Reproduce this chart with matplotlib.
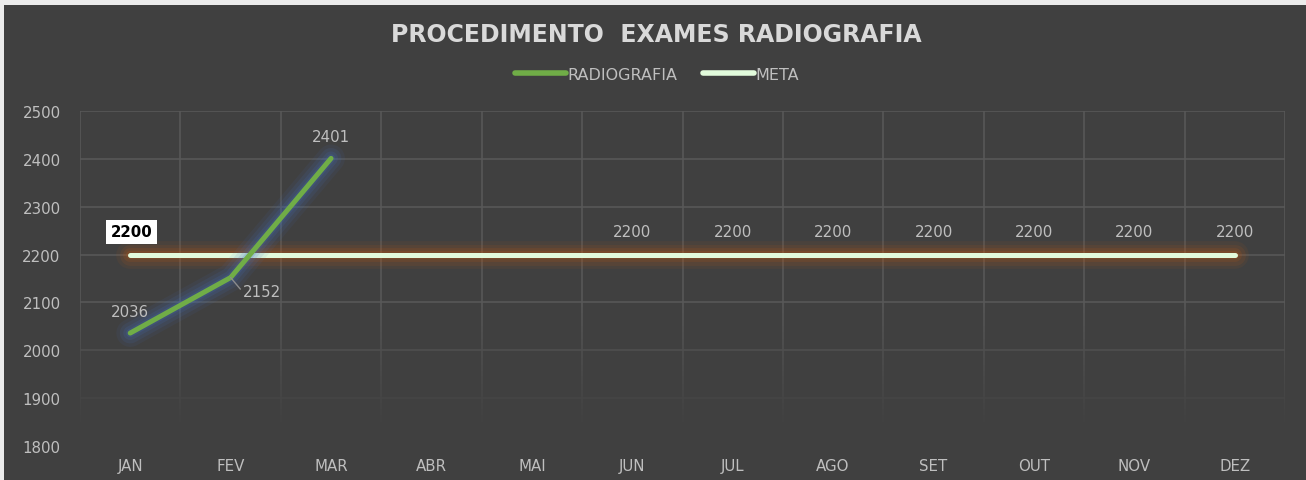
import matplotlib
matplotlib.use("Agg")
import matplotlib.pyplot as plt
import matplotlib.patheffects as pe
from matplotlib.patches import Rectangle
from matplotlib.lines import Line2D
import numpy as np

# ---------------------------------------------------------------------------
# Data
# ---------------------------------------------------------------------------
MONTHS = ["JAN", "FEV", "MAR", "ABR", "MAI", "JUN",
          "JUL", "AGO", "SET", "OUT", "NOV", "DEZ"]
RADIOGRAFIA = [2036, 2152, 2401]
META = [2200] * 12
META_LABELED = ["JUN", "JUL", "AGO", "SET", "OUT", "NOV", "DEZ"]

TITLE = "PROCEDIMENTO  EXAMES RADIOGRAFIA"
BG = "#404040"
GRID = "#585858"
TXT = "#bfbfbf"
GREEN = "#70ad47"
MINT = "#e2fbdc"

plt.rcParams["font.family"] = ["DejaVu Sans"]

W, H = 1306, 481
fig = plt.figure(figsize=(W / 100, H / 100), dpi=100, facecolor="#ececec")
fig.patches.append(Rectangle((4 / W, 0), 1, 1 - 6 / H, transform=fig.transFigure,
                             facecolor=BG, edgecolor="none", zorder=-5))

ax = fig.add_axes([80 / W, 1 - 447 / H, (1285 - 80) / W, (447 - 112) / H])
ax.set_facecolor(BG)
ax.patch.set_alpha(0)

x = np.arange(len(MONTHS))
ax.set_yticks(range(1800, 2501, 100))
ax.set_xticks(x)
ax.set_xticklabels(MONTHS)
ax.set_xticks(np.arange(-0.5, len(MONTHS), 1), minor=True)
ax.tick_params(axis="both", which="both", length=0, colors=TXT, labelsize=10.8)
ax.tick_params(axis="y", pad=14)
ax.tick_params(axis="x", pad=9)
for s in ax.spines.values():
    s.set_visible(False)

# grid
ax.grid(axis="y", which="major", color=GRID, linewidth=1.2)
ax.grid(axis="x", which="minor", color=GRID, linewidth=1.2)
ax.set_axisbelow(True)

# fade the grid toward the bottom, like the original
fade = np.zeros((200, 2, 4))
fade[:, :, :3] = np.array([0x40, 0x40, 0x40]) / 255
fade[:, :, 3] = np.clip(np.linspace(1.15, -0.15, 200), 0, 1)[:, None]
ax.imshow(fade, extent=(-0.5, 11.5, 1800, 2130), origin="lower",
          aspect="auto", zorder=0.9, interpolation="nearest")
ax.set_xlim(-0.5, len(MONTHS) - 0.5)
ax.set_ylim(1800, 2500)

# lines with glow
def glow(color):
    return [pe.Stroke(linewidth=20, foreground=color, alpha=0.08),
            pe.Stroke(linewidth=15, foreground=color, alpha=0.11),
            pe.Stroke(linewidth=10, foreground=color, alpha=0.14),
            pe.Stroke(linewidth=6, foreground=color, alpha=0.18),
            pe.Normal()]

ax.plot(x, META, color=MINT, linewidth=3.6, solid_capstyle="round",
        zorder=3, path_effects=glow("#c55a11"))
ax.plot(x[:len(RADIOGRAFIA)], RADIOGRAFIA, color=GREEN, linewidth=3.6,
        solid_capstyle="round", solid_joinstyle="round", zorder=4,
        path_effects=glow("#4472c4"))

# data labels
for m, v in zip(MONTHS, META):
    if m in META_LABELED:
        ax.annotate(f"{v}", (MONTHS.index(m), v), textcoords="offset points",
                    xytext=(0, 11), ha="center", va="bottom", color=TXT, fontsize=10.8)
ax.annotate(f"{META[0]}", (0, META[0]), textcoords="offset points",
            xytext=(1, 11), ha="center", va="bottom", color="black",
            fontsize=10.8, fontweight="bold",
            bbox=dict(boxstyle="square,pad=0.3", facecolor="white", edgecolor="none"))

ax.annotate(f"{RADIOGRAFIA[0]}", (0, RADIOGRAFIA[0]), textcoords="offset points",
            xytext=(0, 10), ha="center", va="bottom", color=TXT, fontsize=10.8, zorder=5)
ax.annotate(f"{RADIOGRAFIA[1]}", (1, RADIOGRAFIA[1]), textcoords="offset points",
            xytext=(9, -10), ha="left", va="center", color=TXT, fontsize=10.8, zorder=5,
            arrowprops=dict(arrowstyle="-", color="#8c8c8c", linewidth=1,
                            connectionstyle="angle,angleA=0,angleB=-50,rad=0",
                            shrinkA=0, shrinkB=0))
ax.annotate(f"{RADIOGRAFIA[2]}", (2, RADIOGRAFIA[2]), textcoords="offset points",
            xytext=(0, 10), ha="center", va="bottom", color=TXT, fontsize=10.8, zorder=5)

fig.text(656 / W, 1 - 35 / H, TITLE, ha="center", va="center", color="#d9d9d9",
         fontsize=17, fontweight="bold")

handles = [Line2D([], [], color=GREEN, linewidth=4, solid_capstyle="round"),
           Line2D([], [], color=MINT, linewidth=4, solid_capstyle="round")]
leg = fig.legend(handles, ["RADIOGRAFIA", "META"], loc="center",
                 bbox_to_anchor=(657 / W, 1 - 75 / H), ncol=2, frameon=False,
                 handlelength=3.2, handletextpad=0.1, columnspacing=1.6,
                 fontsize=11.5)
for t in leg.get_texts():
    t.set_color(TXT)

fig.savefig("out.png", dpi=100, facecolor=fig.get_facecolor())
